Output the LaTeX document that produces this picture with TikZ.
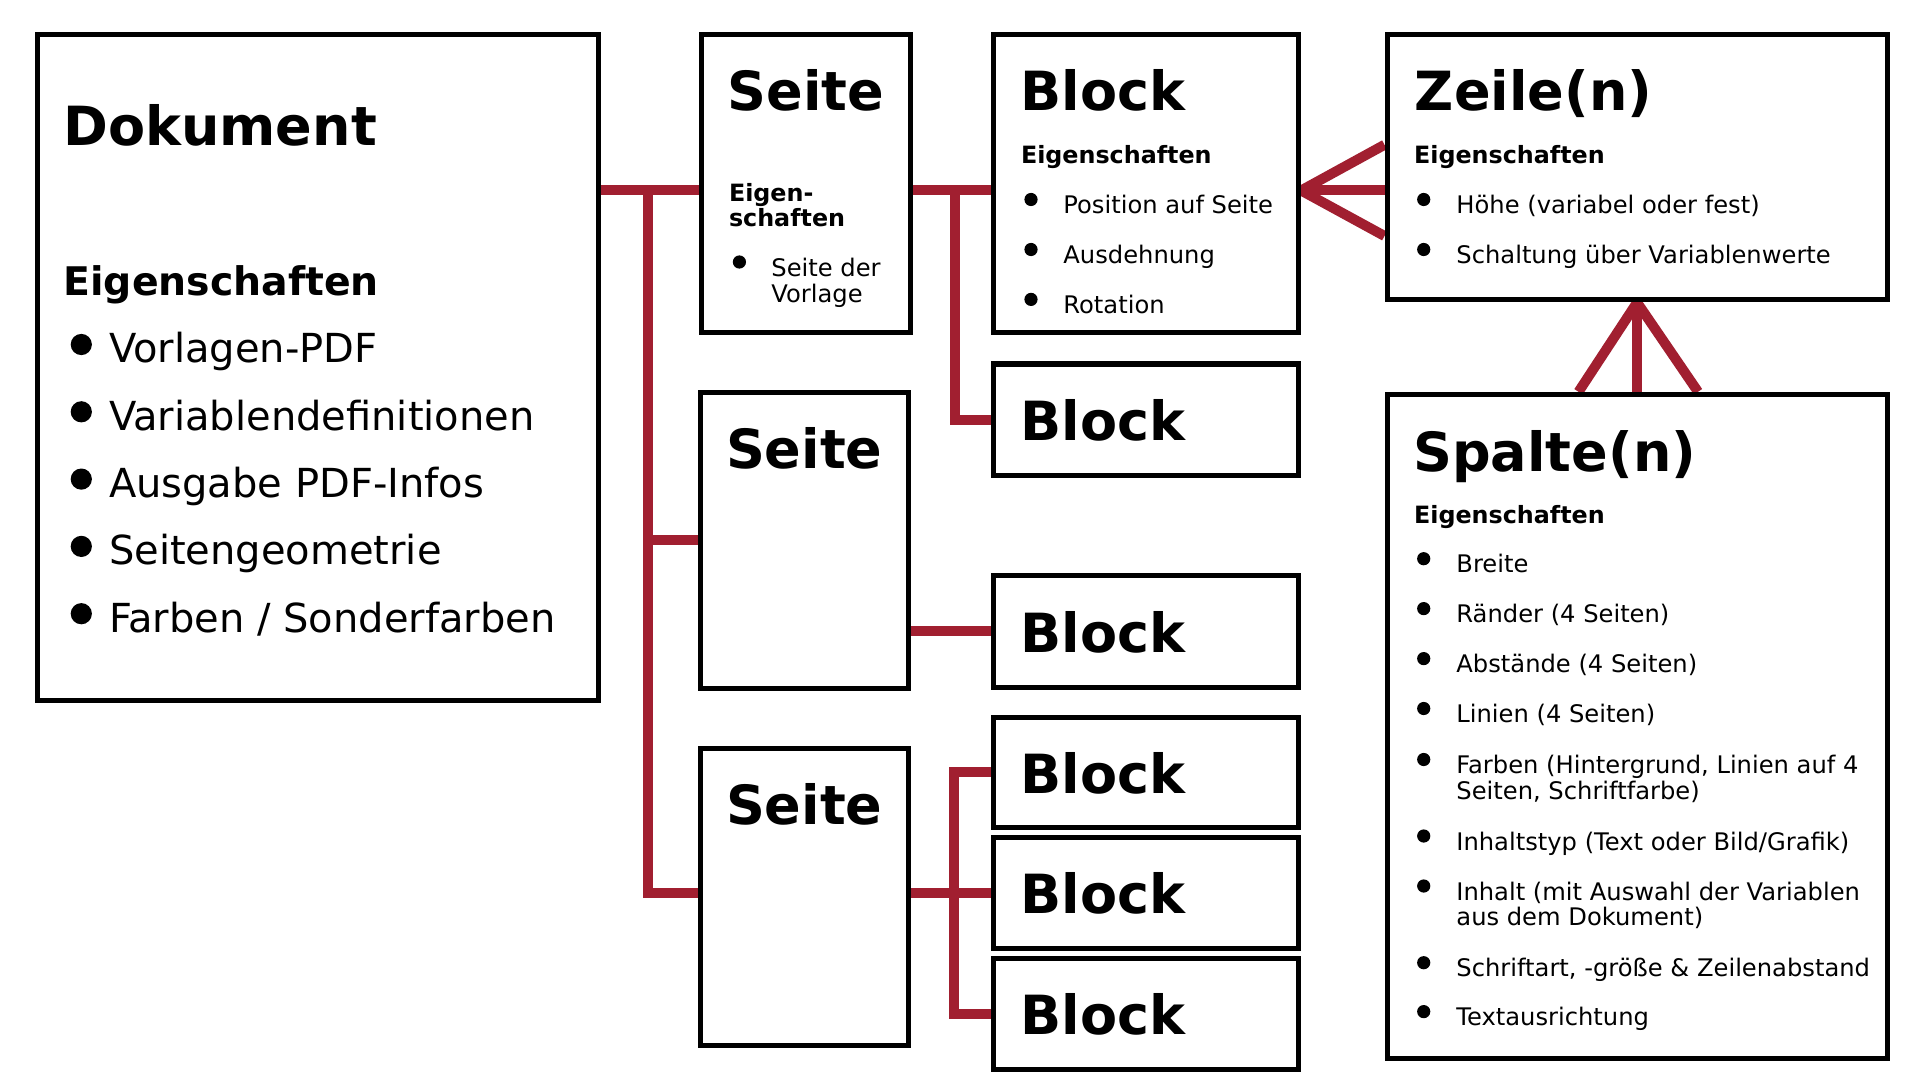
\documentclass[tikz,border=0pt]{standalone}
\usepackage{fontspec}
\setmainfont{DejaVu Sans}
\usetikzlibrary{fit,backgrounds}
\definecolor{conred}{RGB}{161,31,48}
\begin{document}
\begin{tikzpicture}[x=0.5pt,y=-0.5pt,
  box/.style={draw=black, line width=2.5pt, fill=white, inner sep=0pt},
  conn/.style={draw=conred, line width=5pt, line join=miter},
  ttl/.style={anchor=base west, inner sep=0pt, font=\fontsize{27}{30}\selectfont\bfseries},
  bighd/.style={anchor=base west, inner sep=0pt, font=\fontsize{19.7}{23}\selectfont\bfseries},
  bigit/.style={anchor=base west, inner sep=0pt, font=\fontsize{20}{23}\selectfont},
  smhd/.style={anchor=base west, inner sep=0pt, font=\fontsize{11.9}{14}\selectfont\bfseries},
  smit/.style={anchor=base west, inner sep=0pt, font=\fontsize{12.1}{14}\selectfont},
]
\useasboundingbox (0,0) rectangle (1920,1080);

% ---------- boxes ----------
\node[box, fit={(37.4,34.8) (598.3,700.3)}] (dok) {};
\node[box, fit={(701.8,34.8) (910.3,332.3)}] (s1) {};
\node[box, fit={(700.2,392) (908.4,688)}] (s2) {};
\node[box, fit={(700.2,748) (908.4,1045.9)}] (s3) {};
\node[box, fit={(993.7,34.8) (1298.6,333)}] (b1) {};
\node[box, fit={(993.7,364) (1298.6,475.5)}] (b2) {};
\node[box, fit={(993.7,575.7) (1298.6,687)}] (b3) {};
\node[box, fit={(993.7,717) (1298.6,827.6)}] (b4) {};
\node[box, fit={(993.7,837.5) (1298.6,948.6)}] (b5) {};
\node[box, fit={(993.7,958) (1298.6,1069)}] (b6) {};
\node[box, fit={(1387,34.8) (1887.1,300)}] (zeile) {};
\node[box, fit={(1387,394.3) (1887.1,1058.6)}] (spalte) {};

% ---------- helper coordinates ----------
\coordinate (ytop) at (0,190.5);
\coordinate (ys3) at (0,893);
\coordinate (trunkA) at (647.5,190.5);
\coordinate (trunkB) at (955,190.5);
\coordinate (trunkC) at (953.5,0);
\coordinate (cfTop) at (0,144.8);
\coordinate (cfBot) at (0,236);
\coordinate (cfL) at (1578.5,0);
\coordinate (cfR) at (1698,0);

% ---------- connectors ----------
\begin{scope}[on background layer]
  \draw[conn] (dok.east |- ytop) -- (s1.west |- ytop);
  \draw[conn] (trunkA) |- (s2.west);
  \draw[conn] (trunkA) |- (s3.west |- ys3);
  \draw[conn] (s1.east |- ytop) -- (b1.west |- ytop);
  \draw[conn] (trunkB) |- (b2.west);
  \draw[conn] (s2.east |- b3.west) -- (b3.west);
  \draw[conn] (b4.west) -| (trunkC |- b6.west) -- (b6.west);
  \draw[conn] (s3.east |- b5.west) -- (b5.west);
  % crow's foot Block -> Zeile
  \draw[conn] (b1.east |- ytop) -- (zeile.west |- cfTop);
  \draw[conn] (b1.east |- ytop) -- (zeile.west |- ytop);
  \draw[conn] (b1.east |- ytop) -- (zeile.west |- cfBot);
  % crow's foot Zeile -> Spalte
  \draw[conn] (zeile.south) -- (spalte.north -| cfL);
  \draw[conn] (zeile.south) -- (spalte.north);
  \draw[conn] (zeile.south) -- (spalte.north -| cfR);
\end{scope}

% ---------- Dokument ----------
\node[ttl] (tdok) at (63,146) {Dokument};
\node[bighd] (hdok) at (63,296) {Eigenschaften};
\foreach \y/\t [count=\i] in {363/{Vorlagen-PDF}, 430.3/{Variablendefinitionen}, 497.6/{Ausgabe PDF-Infos}, 564.9/{Seitengeometrie}, 632.2/{Farben / Sonderfarben}}{
  \fill (81.3,\y-18.5) circle[radius=5.3pt];
  \node[bigit] (dokit\i) at (108.6,\y) {\t};
}

% ---------- Seite 1 ----------
\node[ttl] (ts1) at (727.5,111) {Seite};
\node[smhd] (hs1a) at (728.6,201.5) {Eigen-};
\node[smhd] (hs1b) at (728.6,227) {schaften};
\fill (739.4,262) circle[radius=3.3pt];
\node[smit] (s1ita) at (771,277) {Seite der};
\node[smit] (s1itb) at (771,303) {Vorlage};

% ---------- Seite 2, 3 ----------
\node[ttl] (ts2) at (725.7,468) {Seite};
\node[ttl] (ts3) at (725.7,824.5) {Seite};

% ---------- Blocks ----------
\node[ttl] (tb1) at (1020,111) {Block};
\node[smhd] (hb1) at (1020.6,163.6) {Eigenschaften};
\foreach \y/\t [count=\i] in {213.5/{Position auf Seite}, 263.5/{Ausdehnung}, 313.4/{Rotation}}{
  \fill (1031,\y-14) circle[radius=3.3pt];
  \node[smit] (b1it\i) at (1063,\y) {\t};
}
\node[ttl] (tb2) at (1020,440.5) {Block};
\node[ttl] (tb3) at (1020,652) {Block};
\node[ttl] (tb4) at (1020,793) {Block};
\node[ttl] (tb5) at (1020,913.5) {Block};
\node[ttl] (tb6) at (1020,1034) {Block};

% ---------- Zeile(n) ----------
\node[ttl] (tz) at (1414.5,111) {Zeile(n)};
\node[smhd] (hz) at (1413.7,163.6) {Eigenschaften};
\foreach \y/\t [count=\i] in {213.5/{Höhe (variabel oder fest)}, 263.5/{Schaltung über Variablenwerte}}{
  \fill (1423.7,\y-14) circle[radius=3.3pt];
  \node[smit] (zit\i) at (1456,\y) {\t};
}

% ---------- Spalte(n) ----------
\node[ttl] (tsp) at (1413,471) {Spalte(n)};
\node[smhd] (hsp) at (1413.7,523.5) {Eigenschaften};
\foreach \y/\t [count=\i] in {572.7/{Breite}, 622.6/{Ränder (4 Seiten)}, 672.6/{Abstände (4 Seiten)}, 722.5/{Linien (4 Seiten)}, 773.5/{Farben (Hintergrund, Linien auf 4}, 850/{Inhaltstyp (Text oder Bild/Grafik)}, 900/{Inhalt (mit Auswahl der Variablen}, 976.7/{Schriftart, -größe \& Zeilenabstand}, 1025.6/{Textausrichtung}}{
  \fill (1423.7,\y-14) circle[radius=3.3pt];
  \node[smit] (spit\i) at (1456,\y) {\t};
}
\node[smit] (spit5b) at (1456,799) {Seiten, Schriftfarbe)};
\node[smit] (spit7b) at (1456,925.7) {aus dem Dokument)};
\end{tikzpicture}
\end{document}
